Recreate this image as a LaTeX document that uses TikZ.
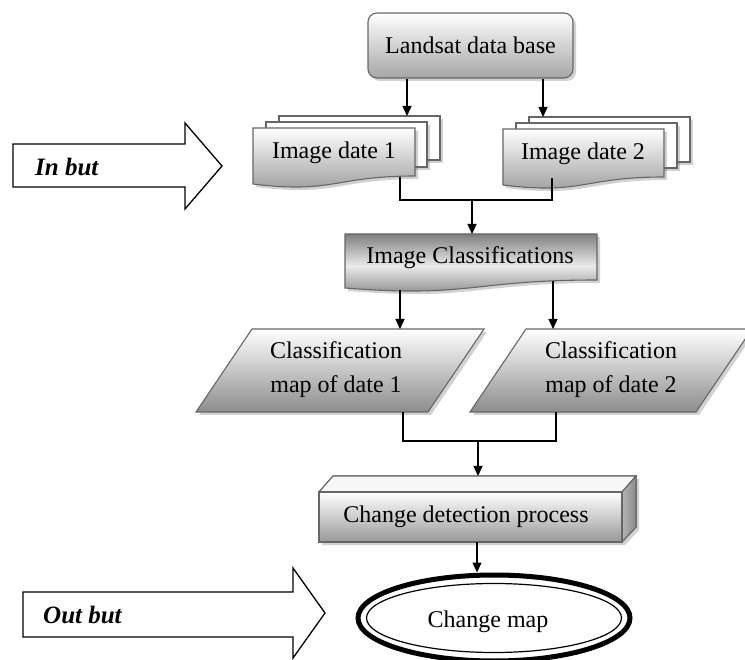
\documentclass[tikz,border=0pt]{standalone}
\usepackage{fontspec}
\setmainfont{Liberation Serif}
\usetikzlibrary{arrows.meta,shadows,shapes.geometric}
\begin{document}
\begin{tikzpicture}[x=1pt,y=-1pt,
 edge/.style={draw=black!60, line width=1.1pt},
 arr/.style={-{Triangle[length=10pt,width=9pt]}, line width=1.3pt},
 conn/.style={line width=1.3pt},
 shad/.style={drop shadow={shadow xshift=3pt, shadow yshift=-3pt, opacity=0.3, fill=black!60}},
 txt/.style={font=\fontsize{24}{34}\selectfont, align=center, inner sep=0pt},
 bigarrow/.style={draw=black, line width=1.3pt, fill=white},
 lbl/.style={font=\fontsize{25}{30}\selectfont\bfseries\itshape, anchor=west, inner sep=0pt},
 light/.style={top color=white, bottom color=black!40},
]
\useasboundingbox (0,0) rectangle (745,660);

% Landsat data base
\node[txt, edge, rounded corners=9pt, top color=white, bottom color=black!35, shad,
      minimum width=205pt, minimum height=65pt] (landsat) at (470.5,45.5) {Landsat data base};

% Image date 1 (multi-document)
\filldraw[edge, fill=white, shad] (279,116) rectangle (440,160);
\filldraw[edge, fill=white, shad] (266,122) rectangle (427,167);
\path[edge, light, shad] (253,128) -- (415,128) -- (415,176)
   .. controls (334,176) and (334,194) .. (253,184) -- cycle;
\node[txt] (img1) at (334,153) {Image date 1};

% Image date 2
\filldraw[edge, fill=white, shad] (529,117) rectangle (690,162);
\filldraw[edge, fill=white, shad] (516,123) rectangle (677,168);
\path[edge, light, shad] (503,129) -- (664,129) -- (664,177)
   .. controls (583,177) and (583,195) .. (503,185) -- cycle;
\node[txt] (img2) at (583,154) {Image date 2};

% Image Classifications
\path[edge, top color=black!50, bottom color=black!50, middle color=black!8, shad]
   (345,234) -- (597,234) -- (597,280)
   .. controls (471,280) and (471,298) .. (345,288) -- cycle;
\node[txt] (cls) at (470,258) {Image Classifications};

% Classification maps (parallelograms)
\path[edge, top color=white, bottom color=black!45, shad]
   (252,329) -- (484,329) -- (428,412) -- (196,412) -- cycle;
\node[txt] (map1) at (336,370) {Classification\\map of date 1};
\path[edge, top color=white, bottom color=black!45, shad]
   (526,329) -- (752,329) -- (696,412) -- (470,412) -- cycle;
\node[txt] (map2) at (611,370) {Classification\\map of date 2};

% Change detection process (cuboid)
\path[edge, fill=black!3, shad] (319,492) -- (333,476) -- (636,476) -- (636,527) -- (622,542) -- (319,542) -- cycle;
\path[edge, fill=black!3] (319,492) -- (333,476) -- (636,476) -- (622,492) -- cycle;
\path[edge, left color=black!30, right color=black!45] (622,492) -- (636,476) -- (636,527) -- (622,542) -- cycle;
\path[edge, top color=white, bottom color=black!40] (319,492) rectangle (622,542);
\node[txt] (cdp) at (466,517) {Change detection process};

% Change map (ellipse)
\node[ellipse, draw=black, line width=5pt, minimum width=272pt, minimum height=86pt, inner sep=0pt] (cmap) at (494,618) {};
\draw[line width=1.2pt] (494,618) ellipse [x radius=127.5pt, y radius=34.5pt];
\node[txt] (cmaptext) at (488,622) {Change map};

% Big arrows
\path[bigarrow] (13,144) -- (185,144) -- (185,123) -- (222,166) -- (185,209) -- (185,187) -- (13,187) -- cycle;
\node[lbl] (inbut) at (35,167) {In but};
\path[bigarrow] (23,592) -- (293,592) -- (293,568) -- (325,613) -- (293,658) -- (293,637) -- (23,637) -- cycle;
\node[lbl] (outbut) at (43,615) {Out but};

% Connector coordinates
\coordinate (l1) at (407,79);   \coordinate (b1) at (407,116);
\coordinate (l2) at (543,79);   \coordinate (b2) at (543,117);
\coordinate (i1) at (400,177);  \coordinate (i1d) at (400,200);
\coordinate (i2) at (552,178);  \coordinate (i2d) at (552,200);
\coordinate (j1) at (472,200);  \coordinate (c1) at (472,234);
\coordinate (s1) at (400,290);  \coordinate (p1) at (400,329);
\coordinate (s2) at (553,281);  \coordinate (p2) at (553,329);
\coordinate (m1) at (403,412);  \coordinate (m1d) at (403,441);
\coordinate (m2) at (556,412);  \coordinate (m2d) at (556,441);
\coordinate (j2) at (478,441);  \coordinate (d1) at (478,476);
\coordinate (e1) at (477,542);

\draw[arr] (l1) -- (b1);
\draw[arr] (l2) -- (b2);
\draw[conn] (i1) -- (i1d) -- (i2d) -- (i2);
\draw[arr] (j1) -- (c1);
\draw[arr] (s1) -- (p1);
\draw[arr] (s2) -- (p2);
\draw[conn] (m1) -- (m1d) -- (m2d) -- (m2);
\draw[arr] (j2) -- (d1);
\draw[arr] (e1) -- (cmap.north -| e1);
\end{tikzpicture}
\end{document}
